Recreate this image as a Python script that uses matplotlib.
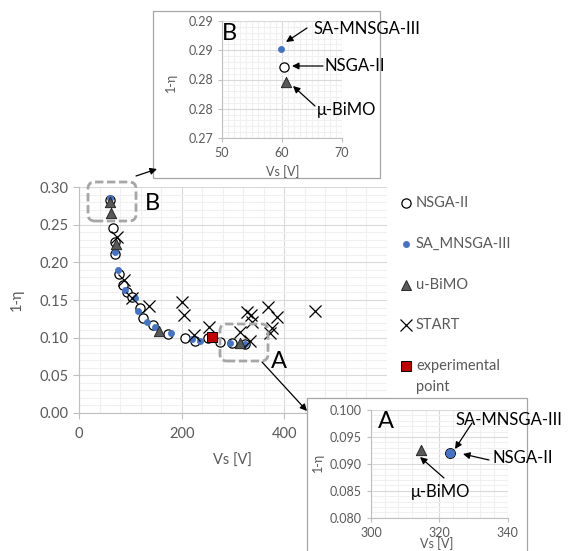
import matplotlib
matplotlib.use("Agg")
import matplotlib.pyplot as plt
from matplotlib.lines import Line2D
from matplotlib.patches import Rectangle, FancyBboxPatch, FancyArrowPatch
import numpy as np

plt.rcParams['font.family'] = ['Lato', 'DejaVu Sans']

# ---------------- data ----------------
nsga_x = [60.4, 67, 70, 71, 78.6, 86.4, 94, 102.6, 118.8, 125, 145, 174, 206.5, 226, 252, 274.7, 297.5, 323.2]
nsga_y = [0.2821, 0.245, 0.227, 0.211, 0.185, 0.170, 0.160, 0.1545, 0.139, 0.126, 0.117, 0.105, 0.100, 0.096, 0.099, 0.0948, 0.0925, 0.0920]

sa_x = [59.9, 70.5, 76.6, 89.6, 110, 114, 131.7, 148, 179, 219.5, 236, 294, 323.2]
sa_y = [0.2852, 0.214, 0.190, 0.163, 0.152, 0.135, 0.121, 0.1147, 0.106, 0.098, 0.096, 0.0935, 0.0921]

bimo_x = [60.6, 61.7, 72, 156.5, 314.6]
bimo_y = [0.2796, 0.266, 0.2245, 0.1094, 0.0926]

start_x = [73.4, 87, 104, 136.5, 200.5, 204, 224.5, 254, 313.6, 326.6, 336, 336.5, 333, 368.5, 385, 375, 372, 459.8]
start_y = [0.233, 0.176, 0.152, 0.142, 0.147, 0.1305, 0.1036, 0.1147, 0.1075, 0.1346, 0.130, 0.121, 0.0955, 0.141, 0.128, 0.1125, 0.106, 0.136]

exp_x = [258.5]
exp_y = [0.1014]

labels = ["NSGA-II", "SA_MNSGA-III", "u-BiMO", "START", "experimental\npoint"]

W, H = 573, 551
fig = plt.figure(figsize=(W / 100, H / 100), dpi=100)

def fx(px):
    return px / W

def fy(py):
    return 1 - py / H

TXT = '#595959'
GRID_MAJ = '#d9d9d9'
GRID_MIN = '#f0f0f0'
BLUE = '#4472c4'
TRI = '#595959'
RED = '#c00000'

FS_MAIN = 10.5
FS_IN = 9
FS_ANN = 12
FS_BIG = 17

styles = {
    'nsga': dict(marker='o', s=44, facecolor='white', edgecolor='black', linewidths=0.9, zorder=3),
    'sa': dict(marker='o', s=20, facecolor=BLUE, edgecolor=BLUE, linewidths=0.5, zorder=4),
    'bimo': dict(marker='^', s=55, facecolor=TRI, edgecolor='#262626', linewidths=0.7, zorder=5),
    'start': dict(marker='x', s=75, color='black', linewidths=0.9, zorder=6),
    'exp': dict(marker='s', s=62, facecolor=RED, edgecolor='black', linewidths=0.7, zorder=7),
}

def style_axes(ax, fs):
    for s in ['top', 'right']:
        ax.spines[s].set_visible(False)
    for s in ['left', 'bottom']:
        ax.spines[s].set_color('#bfbfbf')
        ax.spines[s].set_linewidth(0.8)
    ax.tick_params(which='major', colors='#bfbfbf', labelcolor=TXT, labelsize=fs, length=4, width=0.8)
    ax.tick_params(which='minor', length=0)
    ax.grid(True, which='major', color=GRID_MAJ, lw=0.8, zorder=0)
    ax.grid(True, which='minor', color=GRID_MIN, lw=0.8, zorder=0)
    ax.set_axisbelow(True)

# ---------------- main axes ----------------
ax = fig.add_axes([fx(79), fy(413), (387 - 79) / W, (413 - 187) / H])
ax.set_xlim(0, 600)
ax.set_ylim(0, 0.30)
ax.set_xticks([0, 200, 400])
ax.set_xticks(np.arange(0, 601, 40), minor=True)
ax.set_yticks(np.arange(0, 0.301, 0.05))
ax.set_yticks(np.arange(0, 0.301, 0.01), minor=True)
ax.set_yticklabels([f"{v:.2f}" for v in np.arange(0, 0.301, 0.05)])
style_axes(ax, FS_MAIN)
ax.tick_params(axis='x', pad=6)
ax.scatter(nsga_x, nsga_y, **styles['nsga'])
ax.scatter(sa_x, sa_y, **styles['sa'])
ax.scatter(bimo_x, bimo_y, **styles['bimo'])
ax.scatter(start_x, start_y, **styles['start'])
ax.scatter(exp_x, exp_y, **styles['exp'])
fig.text(fx(232), fy(461), "Vs [V]", color=TXT, fontsize=FS_MAIN, ha='center', va='center')
fig.text(fx(17), fy(300), "1-η", color=TXT, fontsize=FS_MAIN, ha='center', va='center', rotation=90)

# legend (manual)
leg_y = [203, 244, 285, 325, 366]
leg_keys = ['nsga', 'sa', 'bimo', 'start', 'exp']
for key, yy, lab in zip(leg_keys, leg_y, labels):
    st = dict(styles[key])
    st.pop('zorder')
    s = st.pop('s')
    fig.add_artist(Line2D([fx(406)], [fy(yy)], transform=fig.transFigure, linestyle='none',
                          marker=st['marker'], markersize=np.sqrt(s),
                          markerfacecolor=st.get('facecolor', 'black'),
                          markeredgecolor=st.get('edgecolor', st.get('color', 'black')),
                          markeredgewidth=st['linewidths']))
    if '\n' in lab:
        l1, l2 = lab.split('\n')
        fig.text(fx(416), fy(yy), l1, color=TXT, fontsize=FS_MAIN, ha='left', va='center')
        fig.text(fx(416), fy(yy + 21), l2, color=TXT, fontsize=FS_MAIN, ha='left', va='center')
    else:
        fig.text(fx(416), fy(yy), lab, color=TXT, fontsize=FS_MAIN, ha='left', va='center')

# dashed zoom boxes on main
def dashed_box(x0, y0, x1, y1):
    p = FancyBboxPatch((fx(x0), fy(y1)), fx(x1) - fx(x0), fy(y0) - fy(y1),
                       boxstyle="round,pad=0,rounding_size=0.012", transform=fig.transFigure,
                       fill=False, edgecolor='#a6a6a6', lw=2.0, linestyle=(0, (3.0, 1.3)), zorder=8)
    fig.add_artist(p)

dashed_box(88, 182, 136, 221)
dashed_box(220, 324, 268, 361)
fig.text(fx(152), fy(203), "B", fontsize=FS_BIG, ha='center', va='center', color='black')
fig.text(fx(279), fy(362), "A", fontsize=FS_BIG, ha='center', va='center', color='black')

# ---------------- inset frames ----------------
fig.add_artist(Rectangle((fx(153), fy(178)), (380 - 153) / W, (178 - 11) / H, transform=fig.transFigure,
                         facecolor='white', edgecolor='#a6a6a6', lw=0.9, zorder=1))
fig.add_artist(Rectangle((fx(307), fy(560)), (527 - 307) / W, (560 - 398) / H, transform=fig.transFigure,
                         facecolor='white', edgecolor='#a6a6a6', lw=0.9, zorder=1))

def arrow(p0, p1, ms=10, lw=0.9):
    a = FancyArrowPatch((fx(p0[0]), fy(p0[1])), (fx(p1[0]), fy(p1[1])), transform=fig.transFigure,
                        arrowstyle='-|>', mutation_scale=ms, color='black', lw=lw, zorder=9,
                        shrinkA=0, shrinkB=0)
    fig.add_artist(a)

arrow((136, 176), (157, 169))
arrow((262, 362), (307, 411))

# ---------------- inset B ----------------
axB = fig.add_axes([fx(222), fy(138), (342 - 222) / W, (138 - 21) / H], zorder=2)
axB.set_xlim(50, 70)
axB.set_ylim(0.27, 0.29)
axB.set_xticks([50, 60, 70])
axB.set_xticks(np.arange(50, 70.01, 1), minor=True)
axB.set_yticks([0.27, 0.275, 0.28, 0.285, 0.29])
axB.set_yticklabels(["0.27", "0.28", "0.28", "0.29", "0.29"])
axB.set_yticks(np.arange(0.27, 0.2901, 0.001), minor=True)
style_axes(axB, FS_IN)
axB.tick_params(which='major', length=3)
axB.patch.set_alpha(0)
for key, xs, ys in [('nsga', nsga_x, nsga_y), ('sa', sa_x, sa_y), ('bimo', bimo_x, bimo_y)]:
    st = dict(styles[key])
    axB.scatter(xs, ys, clip_on=True, **st)
fig.text(fx(283), fy(172), "Vs [V]", color=TXT, fontsize=FS_IN, ha='center', va='center')
fig.text(fx(171), fy(82), "1-η", color=TXT, fontsize=FS_IN, ha='center', va='center', rotation=90)
fig.text(fx(229), fy(34), "B", fontsize=FS_BIG, ha='center', va='center', color='black', zorder=5)
fig.text(fx(313), fy(29), "SA-MNSGA-III", fontsize=FS_ANN, ha='left', va='center', color='black', zorder=5)
fig.text(fx(325), fy(66), "NSGA-II", fontsize=FS_ANN, ha='left', va='center', color='black', zorder=5)
fig.text(fx(317), fy(110), "μ-BiMO", fontsize=FS_ANN, ha='left', va='center', color='black', zorder=5)
arrow((307, 28), (286, 42))
arrow((323, 66), (292, 66))
arrow((315, 106), (293, 86))

# ---------------- inset A ----------------
axA = fig.add_axes([fx(371), fy(517.7), (507.7 - 371) / W, (517.7 - 410) / H], zorder=2)
axA.set_xlim(300, 340)
axA.set_ylim(0.08, 0.10)
axA.set_xticks([300, 320, 340])
axA.set_xticks(np.arange(300, 340.01, 4), minor=True)
axA.set_yticks(np.arange(0.08, 0.1001, 0.005))
axA.set_yticklabels([f"{v:.3f}" for v in np.arange(0.08, 0.1001, 0.005)])
axA.set_yticks(np.arange(0.08, 0.1001, 0.001), minor=True)
style_axes(axA, FS_IN)
axA.tick_params(which='major', length=3)
axA.patch.set_alpha(0)
stN = dict(styles['nsga']); stN['s'] = 48
axA.scatter(nsga_x, nsga_y, **stN)
stS = dict(styles['sa']); stS['s'] = 38; stS['zorder'] = 4
axA.scatter(sa_x, sa_y, **stS)
axA.scatter(bimo_x, bimo_y, **styles['bimo'])
fig.text(fx(437), fy(544), "Vs [V]", color=TXT, fontsize=FS_IN, ha='center', va='center')
fig.text(fx(318), fy(462), "1-η", color=TXT, fontsize=FS_IN, ha='center', va='center', rotation=90)
fig.text(fx(386), fy(422), "A", fontsize=FS_BIG, ha='center', va='center', color='black', zorder=5)
fig.text(fx(456), fy(420), "SA-MNSGA-III", fontsize=FS_ANN, ha='left', va='center', color='black', zorder=5)
fig.text(fx(492), fy(458), "NSGA-II", fontsize=FS_ANN, ha='left', va='center', color='black', zorder=5)
fig.text(fx(411), fy(492), "μ-BiMO", fontsize=FS_ANN, ha='left', va='center', color='black', zorder=5)
arrow((472, 423), (455, 449))
arrow((489, 460), (463, 454))
arrow((444, 478), (420, 457))

fig.savefig("out.png", dpi=100)
